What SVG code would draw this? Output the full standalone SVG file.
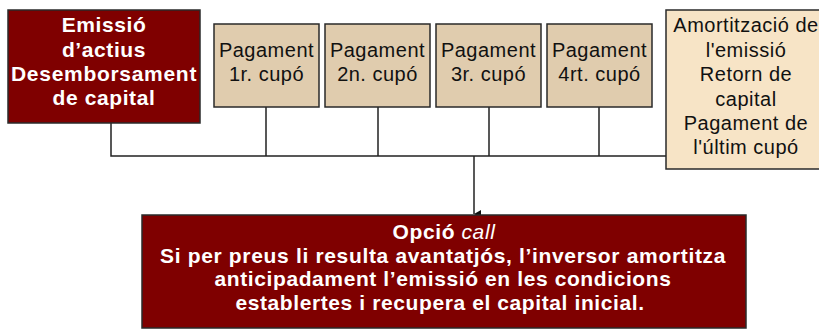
<svg xmlns="http://www.w3.org/2000/svg" width="819" height="329" viewBox="0 0 819 329">
<style>
.dark{fill:#7f0000;stroke:#2a2a2a;stroke-width:1.5}
.tan{fill:#e0ccae;stroke:#2a2a2a;stroke-width:1.5}
.light{fill:#f7e4c6;stroke:#2a2a2a;stroke-width:1.5}
.wt{fill:#ffffff;font-family:"Liberation Sans",Arial,sans-serif;font-weight:bold;font-size:21px;text-anchor:middle;letter-spacing:0.6px}
.bt{fill:#111111;font-family:"Liberation Sans",Arial,sans-serif;font-size:20px;text-anchor:middle;letter-spacing:0.5px}
.ln{stroke:#222;stroke-width:1.5;fill:none}
</style>
<defs>
<marker id="ah" markerWidth="8" markerHeight="8" refX="4" refY="7" orient="auto" markerUnits="userSpaceOnUse">
<path d="M0,0 L8,0 L4,7 z" fill="#111"/>
</marker>
</defs>
<rect width="819" height="329" fill="#ffffff"/>
<g id="connectors">
<path class="ln" d="M111,123 V156 H666"/>
<path class="ln" d="M266,107 V156 M378,107 V156 M489,107 V156 M599,107 V156"/>
<path class="ln" d="M474,156 V214" marker-end="url(#ah)"/>
</g>
<g id="emissio">
<rect class="dark" x="8" y="10" width="192" height="113"/>
<text class="wt" x="104" y="32">Emissió</text>
<text class="wt" x="104" y="57">d’actius</text>
<text class="wt" x="104" y="81" textLength="186" lengthAdjust="spacing">Desemborsament</text>
<text class="wt" x="104" y="105">de capital</text>
</g>
<g id="pag1">
<rect class="tan" x="214" y="24" width="105" height="83"/>
<text class="bt" x="266.5" y="57">Pagament</text>
<text class="bt" x="266.5" y="81">1r. cupó</text>
</g>
<g id="pag2">
<rect class="tan" x="325" y="24" width="105" height="83"/>
<text class="bt" x="377.5" y="57">Pagament</text>
<text class="bt" x="377.5" y="81">2n. cupó</text>
</g>
<g id="pag3">
<rect class="tan" x="436" y="24" width="105" height="83"/>
<text class="bt" x="488.5" y="57">Pagament</text>
<text class="bt" x="488.5" y="81">3r. cupó</text>
</g>
<g id="pag4">
<rect class="tan" x="547" y="24" width="105" height="83"/>
<text class="bt" x="599.5" y="57">Pagament</text>
<text class="bt" x="599.5" y="81">4rt. cupó</text>
</g>
<g id="amortitzacio">
<rect class="light" x="666" y="10" width="160" height="159"/>
<text class="bt" x="746" y="32">Amortització de</text>
<text class="bt" x="746" y="57">l'emissió</text>
<text class="bt" x="746" y="81">Retorn de</text>
<text class="bt" x="746" y="106">capital</text>
<text class="bt" x="746" y="130">Pagament de</text>
<text class="bt" x="746" y="154">l'últim cupó</text>
</g>
<g id="opcio">
<rect class="dark" x="142" y="215" width="604" height="113"/>
<text class="wt" x="444" y="239">Opció <tspan font-style="italic" font-weight="normal">call</tspan></text>
<text class="wt" x="443" y="263" textLength="566" lengthAdjust="spacing">Si per preus li resulta avantatjós, l’inversor amortitza</text>
<text class="wt" x="443" y="286">anticipadament l’emissió en les condicions</text>
<text class="wt" x="440" y="310">establertes i recupera el capital inicial.</text>
</g>
</svg>
